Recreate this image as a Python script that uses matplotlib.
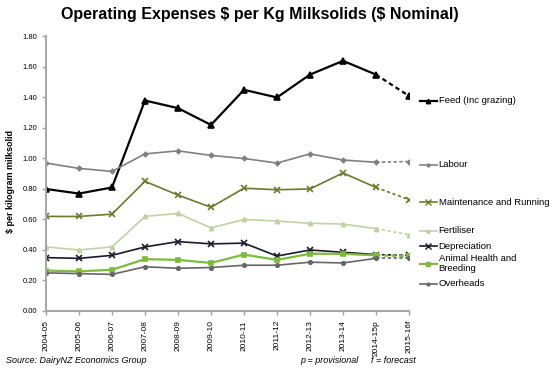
import matplotlib
matplotlib.use('Agg')
import matplotlib.pyplot as plt

plt.rcParams['font.family'] = ['Liberation Sans', 'DejaVu Sans']
plt.rcParams['text.parse_math'] = False

years = ['2004-05', '2005-06', '2006-07', '2007-08', '2008-09', '2009-10',
         '2010-11', '2011-12', '2012-13', '2013-14', '2014-15p', '2015-16f']

feed        = [0.80, 0.77, 0.81, 1.38, 1.33, 1.22, 1.45, 1.40, 1.55, 1.64, 1.55, 1.41]
labour      = [0.97, 0.935, 0.915, 1.03, 1.05, 1.02, 1.00, 0.97, 1.03, 0.99, 0.975, 0.98]
maintenance = [0.62, 0.62, 0.635, 0.85, 0.76, 0.68, 0.805, 0.795, 0.80, 0.905, 0.81, 0.73]
fertiliser  = [0.42, 0.40, 0.42, 0.62, 0.64, 0.545, 0.60, 0.59, 0.575, 0.57, 0.54, 0.50]
depreciation = [0.35, 0.345, 0.365, 0.42, 0.455, 0.44, 0.445, 0.36, 0.40, 0.385, 0.37, 0.365]
animal_health = [0.265, 0.26, 0.27, 0.34, 0.335, 0.315, 0.37, 0.335, 0.375, 0.375, 0.365, 0.36]
overheads   = [0.25, 0.245, 0.24, 0.29, 0.28, 0.285, 0.30, 0.30, 0.32, 0.315, 0.345, 0.345]

yticks = [0.0, 0.2, 0.4, 0.6, 0.8, 1.0, 1.2, 1.4, 1.6, 1.8]

# (values, label, colour, marker, marker size, label y position)
series = [
    (feed, 'Feed (Inc grazing)', '#000000', '^', 4, 1.38),
    (labour, 'Labour', '#808080', 'D', 2.2, 0.96),
    (maintenance, 'Maintenance and Running', '#6b7a2c', 'x', 5, 0.713),
    (fertiliser, 'Fertiliser', '#c3d1a2', '^', 3, 0.525),
    (depreciation, 'Depreciation', '#1a1a2a', 'x', 5, 0.426),
    (animal_health, 'Animal Health and\nBreeding', '#7cbc3c', 's', 3, 0.31),
    (overheads, 'Overheads', '#666666', 'o', 2.5, 0.18),
]

fig = plt.figure(figsize=(5.5, 3.72), dpi=100)
ax = fig.add_axes([0.0836, 0.164, 0.66, 0.738])

x = list(range(len(years)))
for vals, label, col, mk, ms, ly in series:
    lw = 1.6 if col in ('#000000', '#7cbc3c') else 1.2
    ax.plot(x[:-1], vals[:-1], color=col, marker=mk, ms=ms, lw=lw, mew=1.2)
    ax.plot(x[-2:], vals[-2:], color=col, marker=mk, ms=ms, lw=lw, ls=(0, (2, 1.5)),
            mew=1.2, markevery=[1])
    # legend entry next to the line end
    ax.plot([11.33, 11.85], [ly, ly], color=col, lw=lw, clip_on=False)
    ax.plot([11.59], [ly], color=col, marker=mk, ms=ms * 0.8, clip_on=False, mew=1)
    ax.text(11.9, ly, label, fontsize=6.8, va='center', ha='left', linespacing=1.1)

ax.set_xlim(0, 11)
ax.set_ylim(0, 1.8)
ax.set_yticks(yticks)
ax.set_yticklabels([f'{v:.2f}' for v in yticks], fontsize=5.5)
ax.set_xticks(x)
ax.set_xticklabels(years, rotation=90, fontsize=6)
ax.tick_params(axis='both', length=3, color='#a0a0a0', width=1)
for s in ['top', 'right']:
    ax.spines[s].set_visible(False)
for s in ['left', 'bottom']:
    ax.spines[s].set_color('#a8a8a8')
    ax.spines[s].set_linewidth(1.5)

ax.set_ylabel('$ per kilogram milksolid', fontsize=6.5, fontweight='bold')
ax.yaxis.set_label_coords(-0.085, 0.47)

fig.text(0.473, 0.962, 'Operating Expenses $ per Kg Milksolids ($ Nominal)',
         fontsize=11.5, fontweight='bold', ha='center', va='center')
fig.text(0.01, 0.018, 'Source: DairyNZ Economics Group', fontsize=6.5,
         style='italic', ha='left', va='bottom')
fig.text(0.545, 0.018, 'p = provisional', fontsize=6.5, style='italic',
         ha='left', va='bottom')
fig.text(0.674, 0.018, 'f = forecast', fontsize=6.5, style='italic',
         ha='left', va='bottom')

fig.savefig('out.png', dpi=100)
